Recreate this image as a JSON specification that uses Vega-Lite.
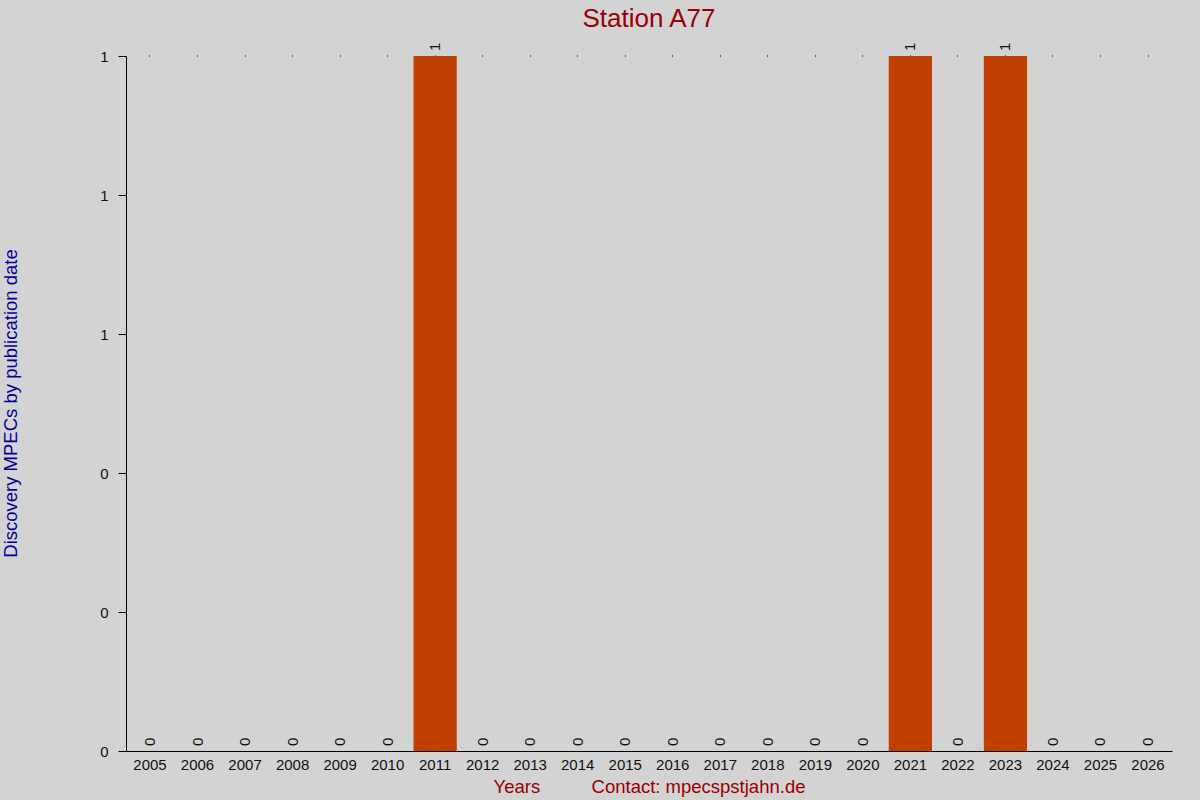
{
  "$schema": "https://vega.github.io/schema/vega-lite/v6.json",
  "width": 1046,
  "height": 695,
  "autosize": {"type": "none"},
  "padding": {"left": 126, "top": 56, "right": 28, "bottom": 49},
  "background": "#d3d3d3",
  "config": {
    "view": {"stroke": null},
    "font": "Liberation Sans",
    "axis": {"grid": false, "domainColor": "#000", "tickColor": "#000", "labelColor": "#111", "labelFont": "Liberation Sans"}
  },
  "title": {
    "text": "Station A77",
    "color": "#990000",
    "fontSize": 26,
    "font": "Liberation Sans",
    "fontWeight": "normal",
    "offset": 11,
    "anchor": "middle"
  },
  "data": {
    "values": [
      {"year": "2005", "count": 0},
      {"year": "2006", "count": 0},
      {"year": "2007", "count": 0},
      {"year": "2008", "count": 0},
      {"year": "2009", "count": 0},
      {"year": "2010", "count": 0},
      {"year": "2011", "count": 1},
      {"year": "2012", "count": 0},
      {"year": "2013", "count": 0},
      {"year": "2014", "count": 0},
      {"year": "2015", "count": 0},
      {"year": "2016", "count": 0},
      {"year": "2017", "count": 0},
      {"year": "2018", "count": 0},
      {"year": "2019", "count": 0},
      {"year": "2020", "count": 0},
      {"year": "2021", "count": 1},
      {"year": "2022", "count": 0},
      {"year": "2023", "count": 1},
      {"year": "2024", "count": 0},
      {"year": "2025", "count": 0},
      {"year": "2026", "count": 0}
    ]
  },
  "layer": [
    {
      "mark": {"type": "bar", "color": "#c04000"},
      "encoding": {
        "x": {
          "field": "year",
          "type": "ordinal",
          "scale": {"paddingInner": 0.09, "paddingOuter": 0.05},
          "axis": {
            "orient": "bottom",
            "labelAngle": 0,
            "ticks": false,
            "labelPadding": 6,
            "labelFontSize": 15,
            "title": "Years\u00a0\u00a0\u00a0\u00a0\u00a0\u00a0\u00a0\u00a0\u00a0\u00a0Contact: mpecspstjahn.de",
            "titleColor": "#990000",
            "titleFontSize": 18.5,
            "titleFontWeight": "normal",
            "titleY": 35,
            "titleBaseline": "middle"
          }
        },
        "y": {
          "field": "count",
          "type": "quantitative",
          "scale": {"domain": [0, 1], "nice": false},
          "axis": {
            "values": [0, 0.2, 0.4, 0.6, 0.8, 1],
            "format": ".0f",
            "tickSize": 8,
            "labelPadding": 10,
            "labelFontSize": 15,
            "title": "Discovery MPECs by publication date",
            "titleColor": "#000099",
            "titleFontSize": 18.5,
            "titleFontWeight": "normal",
            "titleAngle": 270,
            "titleX": -116,
            "titleY": 347,
            "titleBaseline": "middle",
            "titleAlign": "center"
          }
        }
      }
    },
    {
      "mark": {"type": "text", "angle": 270, "align": "left", "baseline": "middle", "dx": 5, "fontSize": 15, "color": "#111"},
      "encoding": {
        "x": {
          "field": "year",
          "type": "ordinal",
          "axis": {"orient": "top", "labels": false, "domain": false, "ticks": true, "tickSize": 1, "tickColor": "#000", "title": null}
        },
        "y": {"field": "count", "type": "quantitative"},
        "text": {"field": "count", "type": "quantitative"}
      }
    }
  ],
  "resolve": {"axis": {"x": "independent", "y": "shared"}}
}
